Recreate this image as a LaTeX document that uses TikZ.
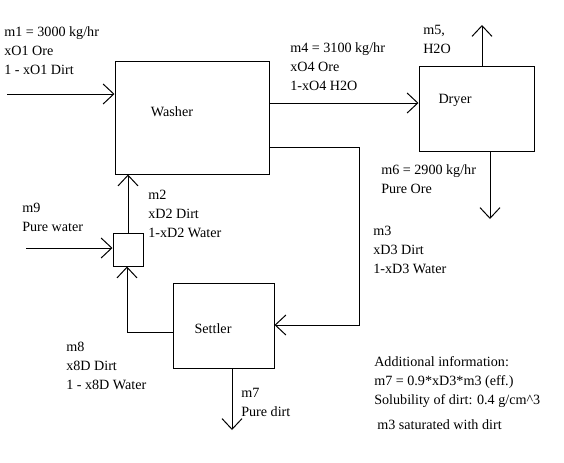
\documentclass[tikz,border=0pt]{standalone}
\usepackage{fontspec}
\setmainfont{Liberation Serif}
\usetikzlibrary{arrows.meta}

\begin{document}
\begin{tikzpicture}[x=0.75pt,y=-0.75pt]
	\tikzstyle{procunit}=[rectangle,draw=black,line width=0.75pt,inner sep=0pt]
	\tikzstyle{flow}=[line width=0.75pt,-{Straight Barb[length=8pt,width=15pt]}]
	\tikzstyle{lbl}=[inner sep=0pt,anchor=base west,align=left,font=\fontsize{10.6}{14.2}\selectfont]
	\tikzstyle{unittxt}=[inner sep=0pt,font=\fontsize{10.6}{14.2}\selectfont]
	\useasboundingbox (0,0) rectangle (564,462);
	% process units
	\node[procunit,minimum width=115.5pt,minimum height=84.75pt] (washer) at (192,117.5) {};
	\node[procunit,minimum width=86.25pt,minimum height=63.75pt] (dryer) at (476.5,108.5) {};
	\node[procunit,minimum width=75.75pt,minimum height=63.75pt] (settler) at (223.5,325.5) {};
	\node[procunit,minimum width=22.5pt,minimum height=24.75pt] (mixer) at (128,249.5) {};
	\node[unittxt] (washertxt) at (172,112) {Washer};
	\node[unittxt] (dryertxt) at (455,100) {Dryer};
	\node[unittxt] (settlertxt) at (213,329) {Settler};
	% stream ends and bends
	\coordinate (m1in) at (7,94);
	\coordinate (m4a) at (269,103);
	\coordinate (m5out) at (482,25);
	\coordinate (m6out) at (490,219);
	\coordinate (m3a) at (359,147);
	\coordinate (m3b) at (359,325);
	\coordinate (m7out) at (232,430);
	\coordinate (m8c) at (127,332);
	\coordinate (m9in) at (26,248);
	% streams
	\draw[flow] (m1in) -- (m1in -| washer.west);
	\draw[flow] (m4a) -- (dryer.west |- m4a);
	\draw[flow] (m5out |- dryer.north) -- (m5out);
	\draw[flow] (m6out |- dryer.south) -- (m6out);
	\draw[flow] (washer.east |- m3a) -- (m3a) -- (m3b) -- (settler.east |- m3b);
	\draw[flow] (m7out |- settler.south) -- (m7out);
	\draw[flow] (settler.west |- m8c) -- (m8c) -- (mixer.south -| m8c);
	\draw[flow] (m9in) -- (mixer.west |- m9in);
	\draw[flow] (mixer.north) -- (washer.south -| mixer.north);
	% labels (placed at the baseline of their last line)
	\node[lbl] (m1lbl) at (4,74) {m1 = 3000 kg/hr\\xO1 Ore\\1 - xO1 Dirt};
	\node[lbl] (m4lbl) at (290,90) {m4 = 3100 kg/hr\\xO4 Ore\\1-xO4 H2O};
	\node[lbl] (m5lbl) at (423,53) {m5,\\H2O};
	\node[lbl] (m6lbl) at (381,193) {m6 = 2900 kg/hr\\Pure Ore};
	\node[lbl] (m2lbl) at (148,237) {m2\\xD2 Dirt\\1-xD2 Water};
	\node[lbl] (m9lbl) at (22,231) {m9\\Pure water};
	\node[lbl] (m3lbl) at (373,273) {m3\\xD3 Dirt\\1-xD3 Water};
	\node[lbl] (m8lbl) at (66,389) {m8\\x8D Dirt\\1 - x8D Water};
	\node[lbl] (m7lbl) at (241,416) {m7\\Pure dirt};
	\node[lbl] (infolbl) at (374,404) {Additional information:\\m7 = 0.9*xD3*m3 (eff.)\\Solubility of dirt: 0.4 g/cm\^{}3};
	\node[lbl] (satlbl) at (377,429) {m3 saturated with dirt};
\end{tikzpicture}
\end{document}
